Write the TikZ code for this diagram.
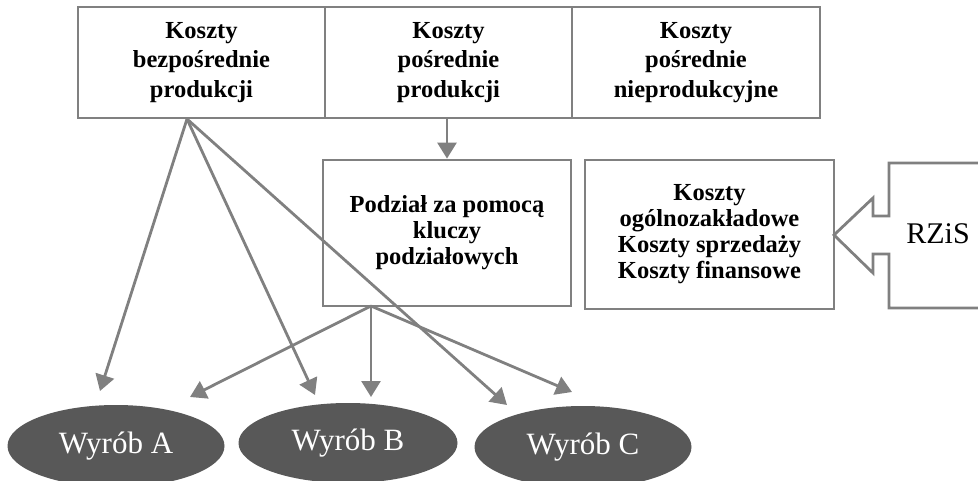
\documentclass[tikz,border=0pt]{standalone}
\usepackage{fontspec}
\setmainfont{Liberation Serif}
\usetikzlibrary{arrows.meta,shapes.geometric}
\definecolor{lgray}{RGB}{128,128,128}
\definecolor{dgray}{RGB}{88,88,88}
\begin{document}
\begin{tikzpicture}[x=1pt,y=-1pt,
  box/.style={draw=lgray, line width=2.8pt, inner sep=0pt, align=center,
    font=\fontsize{24.5}{29.5}\selectfont\bfseries},
  tightbox/.style={box, font=\fontsize{24.5}{26}\selectfont\bfseries},
  prod/.style={ellipse, fill=dgray, inner sep=0pt, text=white,
    minimum width=217pt, minimum height=82pt, font=\fontsize{31}{36}\selectfont},
  conn/.style={draw=lgray, line width=2.8pt, -{Triangle[length=16pt,width=19pt]}},
  outl/.style={draw=lgray, line width=2.8pt}
]
\useasboundingbox (0,0) rectangle (978,481);
\clip (0,0) rectangle (978,481);

% top boxes
\node[box, minimum width=247pt, minimum height=111pt] (k1) at (201.5,62.5)
  {Koszty\\bezpośrednie\\produkcji};
\node[box, minimum width=247pt, minimum height=111pt] (k2) at (448.5,62.5)
  {Koszty\\pośrednie\\produkcji};
\node[box, minimum width=248pt, minimum height=111pt] (k3) at (696,62.5)
  {Koszty\\pośrednie\\nieprodukcyjne};

% middle boxes
\node[tightbox, minimum width=248pt, minimum height=146pt] (pod) at (447,233)
  {Podział za pomocą\\kluczy\\podziałowych};
\node[tightbox, minimum width=249pt, minimum height=149pt] (ogol) at (709.5,234.5)
  {Koszty\\ogólnozakładowe\\Koszty sprzedaży\\Koszty finansowe};

% RZiS callout arrow
\draw[outl] (995,163) -- (889,163) -- (889,216) -- (873,216) -- (873,198)
  -- (834,235) -- (873,273) -- (873,254) -- (889,254) -- (889,308) -- (995,308);
\node[font=\fontsize{30}{36}\selectfont] (rzis) at (938,234) {RZiS};

% products
\node[prod] (wa) at (116,446) {Wyrób A};
\node[prod, minimum width=219pt, minimum height=80pt] (wb) at (348,443) {Wyrób B};
\node[prod] (wc) at (583,447) {Wyrób C};

% fan points and arrow ends
\coordinate (f1) at (187,119);
\coordinate (f2) at (371,306);
\coordinate (a1) at (100,391);
\coordinate (b1) at (315,395);
\coordinate (c1) at (507,405);
\coordinate (a2) at (190,397);
\coordinate (b2) at (371,397);
\coordinate (c2) at (572,392);

\draw[conn] (f1) -- (a1);
\draw[conn] (f1) -- (b1);
\draw[conn] (f1) -- (c1);
\draw[conn] (k2.south -| pod.north) -- (pod.north);
\draw[conn] (f2) -- (a2);
\draw[conn] (f2) -- (b2);
\draw[conn] (f2) -- (c2);
\end{tikzpicture}
\end{document}
